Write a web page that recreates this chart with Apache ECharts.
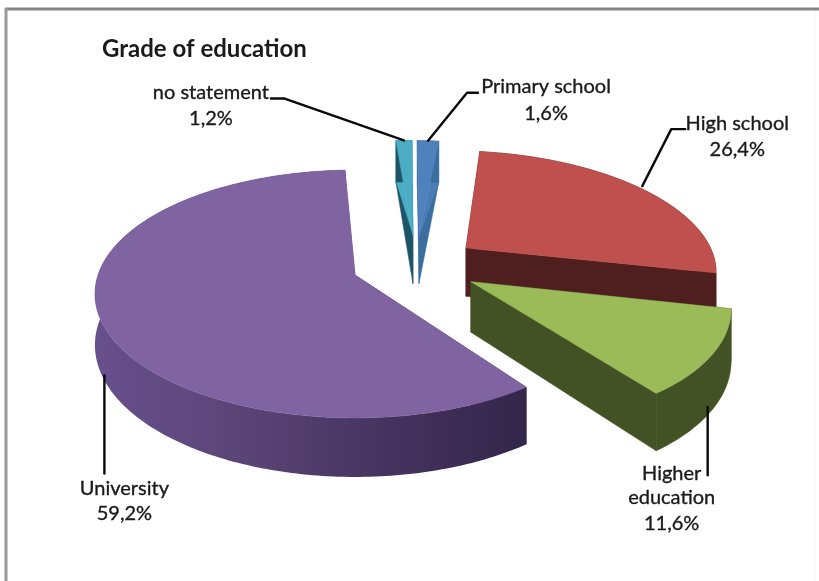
<!DOCTYPE html>
<html><head><meta charset="utf-8">
<style>html,body{margin:0;padding:0;background:#fff}#c{width:819px;height:581px}</style>
<script src="https://cdn.jsdelivr.net/npm/echarts@6/dist/echarts.min.js"></script>
</head><body><div id="c"></div>
<script>
// Data
var categories = ['no statement', 'Primary school', 'High school', 'Higher education', 'University'];
var shares = [1.2, 1.6, 26.4, 11.6, 59.2];
var shareLabels = ['1,2%', '1,6%', '26,4%', '11,6%', '59,2%'];
var chartTitle = 'Grade of education';

// Look
var faceColors = ['#4BACC6', '#4F81BD', '#C0504D', '#9BBB59', '#8064A2'];
var wallColors = ['#1D5567', '#3A6E9F', '#4F1E1E', '#435225', '#4A3866'];
var wallUpper  = ['#4BACC6', '#4A7DB8', '#4F1E1E', '#435225', '#4A3866'];

// Projection of the 3D pie (a disc of radius R seen in perspective)
var layout = {cx: 355, cy: 275, R: 257, tilt: 0.471, persp: 0.153, depth: 50, startAngle: -2.6};
// Explosion of each slice on the disc, in radii, and its radius scale
var explodeU = [0.237, 0.262, 0.447, 0.447, 0];
var explodeV = [-0.339, -0.339, -0.231, 0.055, 0];
var radiusScale = [1, 1, 0.985, 0.98, 1];
// Leader lines, relative to the slice anchor; label line positions relative to the anchor
var leaders = [
  {onWall: false, from: [0, 0], mid: [-120, -42], end: [-133, -42], tx: -193, ty: [-48, -22]},
  {onWall: false, from: [0, 0], mid: [39, -48], end: [50, -48], tx: 118, ty: [-54, -27]},
  {onWall: false, from: [0, -3], mid: [29, -60], end: [43, -60], tx: 95, ty: [-66, -40]},
  {onWall: true, from: [-5, -2], mid: [-5, 66], end: [-5, 66], tx: -41, ty: [64, 88, 114]},
  {onWall: true, from: [5, 6], mid: [5, 104], end: [5, 104], tx: 25, ty: [119, 144]}
];
var labelLines = [
  ['no statement', shareLabels[0]],
  ['Primary school', shareLabels[1]],
  ['High school', shareLabels[2]],
  ['Higher', 'education', shareLabels[3]],
  ['University', shareLabels[4]]
];
var FONT = 'Lato, "Open Sans", sans-serif';

function project(u, v, drop) {
  var w = 1 / (1 - layout.persp * v);
  return [layout.cx + layout.R * u * w,
          layout.cy + layout.R * layout.tilt * v * w + (drop ? layout.depth * w : 0)];
}
function total() { return shares.reduce(function (a, b) { return a + b; }, 0); }
function sliceAngles(i) {
  var s = layout.startAngle, t = total();
  for (var k = 0; k < i; k++) s += shares[k] / t * 360;
  return [s, s + shares[i] / t * 360];
}
function rim(i, deg) {
  var a = deg * Math.PI / 180, r = radiusScale[i];
  return [explodeU[i] + r * Math.sin(a), explodeV[i] - r * Math.cos(a)];
}
function poly(points, fill, z) {
  return {type: 'polygon', shape: {points: points}, z2: z,
    style: {fill: fill, stroke: fill, lineWidth: 0.5}};
}
function renderSlice(params, api) {
  var i = params.dataIndex;
  var ang = sliceAngles(i), a0 = ang[0], a1 = ang[1];
  var base = i * 10;
  var arcTop = [], arcBot = [], steps = Math.max(4, Math.ceil(a1 - a0));
  for (var s = 0; s <= steps; s++) {
    var d = a0 + (a1 - a0) * s / steps;
    var p = rim(i, d);
    arcTop.push(project(p[0], p[1], false));
    arcBot.push(project(p[0], p[1], true));
  }
  var tipT = project(explodeU[i], explodeV[i], false);
  var tipB = project(explodeU[i], explodeV[i], true);
  var first = 0, last = arcTop.length - 1;
  var children = [];
  // cut walls; the thin slices shade the two triangles of a wall differently
  [first, last].forEach(function (e) {
    if (wallUpper[i] === wallColors[i]) {
      children.push(poly([tipT, arcTop[e], arcBot[e], tipB], wallColors[i], base + 1));
    } else {
      children.push(poly([tipT, arcTop[e], arcBot[e]], wallUpper[i], base + 1));
      children.push(poly([tipT, arcBot[e], tipB], wallColors[i], base + 1));
    }
  });
  // outer wall
  var wallFill = wallColors[i];
  if (i === 4) {
    wallFill = new echarts.graphic.LinearGradient(95, 0, 525, 0, [
      {offset: 0, color: '#67508C'},
      {offset: 0.35, color: '#5A4476'},
      {offset: 0.7, color: '#44325E'},
      {offset: 1, color: '#33264A'}
    ], true);
  }
  children.push({type: 'polygon', z2: base + 2,
    shape: {points: arcTop.concat(arcBot.slice().reverse())},
    style: {fill: wallFill, stroke: i === 4 ? null : wallFill, lineWidth: 0.5}});
  // top face
  children.push(poly([tipT].concat(arcTop), faceColors[i], base + 3));
  // leader line and label
  var mid = (a0 + a1) / 2, m = rim(i, mid), L = leaders[i];
  var anchor = project(m[0], m[1], L.onWall);
  children.push({type: 'polyline', z2: 90, shape: {points: [
      [anchor[0] + L.from[0], anchor[1] + L.from[1]],
      [anchor[0] + L.mid[0], anchor[1] + L.mid[1]],
      [anchor[0] + L.end[0], anchor[1] + L.end[1]]
    ]}, style: {stroke: '#0a0a0a', lineWidth: 2.4, fill: null, lineJoin: 'round', lineCap: 'round'}});
  labelLines[i].forEach(function (txt, k) {
    children.push({type: 'text', z2: 91, style: {
      text: txt, x: anchor[0] + L.tx, y: anchor[1] + L.ty[k],
      textAlign: 'center', textVerticalAlign: 'middle',
      font: '20px ' + FONT, fill: '#1a1a1a', stroke: '#1a1a1a', lineWidth: 0.35}});
  });
  return {type: 'group', children: children};
}

var chart = echarts.init(document.getElementById('c'), null, {renderer: 'canvas'});
chart.setOption({
  animation: false,
  backgroundColor: '#fff',
  title: {text: chartTitle, left: 97, top: 32,
    textStyle: {fontFamily: FONT, fontWeight: 'bold', fontSize: 24, color: '#1a1a1a'}},
  graphic: [
    {type: 'line', shape: {x1: 5, y1: 9, x2: 819, y2: 9}, style: {stroke: '#858585', lineWidth: 3}},
    {type: 'line', shape: {x1: 6, y1: 8, x2: 6, y2: 581}, style: {stroke: '#9a9a9a', lineWidth: 3}},
    {type: 'line', shape: {x1: 815, y1: 11, x2: 815, y2: 581}, style: {stroke: '#f5f5f5', lineWidth: 1}}
  ],
  series: [{
    type: 'custom',
    coordinateSystem: 'none',
    renderItem: renderSlice,
    data: categories.map(function (c, i) { return {name: c, value: shares[i]}; })
  }]
});
</script></body></html>
